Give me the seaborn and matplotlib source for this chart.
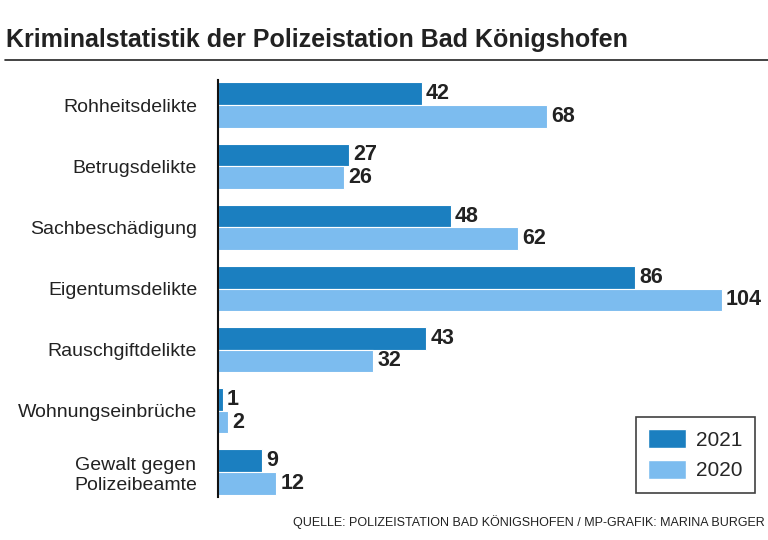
import matplotlib
matplotlib.use("Agg")
import matplotlib.pyplot as plt
import seaborn as sns
import pandas as pd
from matplotlib.patches import Patch
from matplotlib.lines import Line2D

categories = ["Rohheitsdelikte", "Betrugsdelikte", "Sachbeschädigung", "Eigentumsdelikte",
              "Rauschgiftdelikte", "Wohnungseinbrüche", "Gewalt gegen\nPolizeibeamte"]
values_2021 = [42, 27, 48, 86, 43, 1, 9]
values_2020 = [68, 26, 62, 104, 32, 2, 12]
years = ["2021", "2020"]
title = "Kriminalstatistik der Polizeistation Bad Königshofen"
source = "QUELLE: POLIZEISTATION BAD KÖNIGSHOFEN / MP-GRAFIK: MARINA BURGER"

sns.set_style("white")
plt.rcParams['font.family'] = ['Liberation Sans', 'DejaVu Sans']

df = pd.DataFrame({
    "Kategorie": categories * 2,
    "Wert": values_2021 + values_2020,
    "Jahr": [years[0]] * len(categories) + [years[1]] * len(categories),
})

c21 = "#1b7fc0"
c20 = "#7cbcef"

fig = plt.figure(figsize=(7.68, 5.4), dpi=100)
ax = fig.add_axes([218/768, 1-497/540, 533/768, (497-80)/540])
sns.barplot(data=df, y="Kategorie", x="Wert", hue="Jahr", orient="h",
            palette={years[0]: c21, years[1]: c20}, width=0.74, saturation=1,
            edgecolor="white", linewidth=0.8, ax=ax, legend=False)
ax.set_xlim(0, 110)
ax.set_ylim(6.41, -0.41)
for c in ax.containers:
    ax.bar_label(c, padding=3, fontsize=15.5, fontweight="bold", color="#222222")
ax.set_xlabel("")
ax.set_ylabel("")
ax.set_xticks([])
ax.tick_params(axis="y", length=0, pad=15, labelsize=14, labelcolor="#222222")
for lbl in ax.get_yticklabels():
    lbl.set_horizontalalignment("right")
    lbl.set_multialignment("center")
for s in ["top", "right", "bottom"]:
    ax.spines[s].set_visible(False)
ax.spines["left"].set_color("#111111")
ax.spines["left"].set_linewidth(1.5)

handles = [Patch(facecolor=c21, label=years[0]), Patch(facecolor=c20, label=years[1])]
leg = ax.legend(handles=handles, loc="lower right", bbox_to_anchor=(755/768, 1-493/540),
                bbox_transform=fig.transFigure, frameon=True, fancybox=False, borderaxespad=0,
                edgecolor="#111111", fontsize=15, handlelength=1.8, handleheight=1.0,
                borderpad=0.6, labelspacing=0.5, handletextpad=0.5)
leg.get_frame().set_linewidth(1.2)

fig.text(6/768, 1-40/540, title, fontsize=18, fontweight="bold", color="#222222",
         va="center", ha="left")
fig.add_artist(Line2D([5/768, 1.0], [1-60/540, 1-60/540], transform=fig.transFigure,
                      color="#222222", linewidth=1.2))
fig.text(765/768, 1-522/540, source, fontsize=9, color="#222222", ha="right", va="center")

fig.savefig("out.png", dpi=100)
